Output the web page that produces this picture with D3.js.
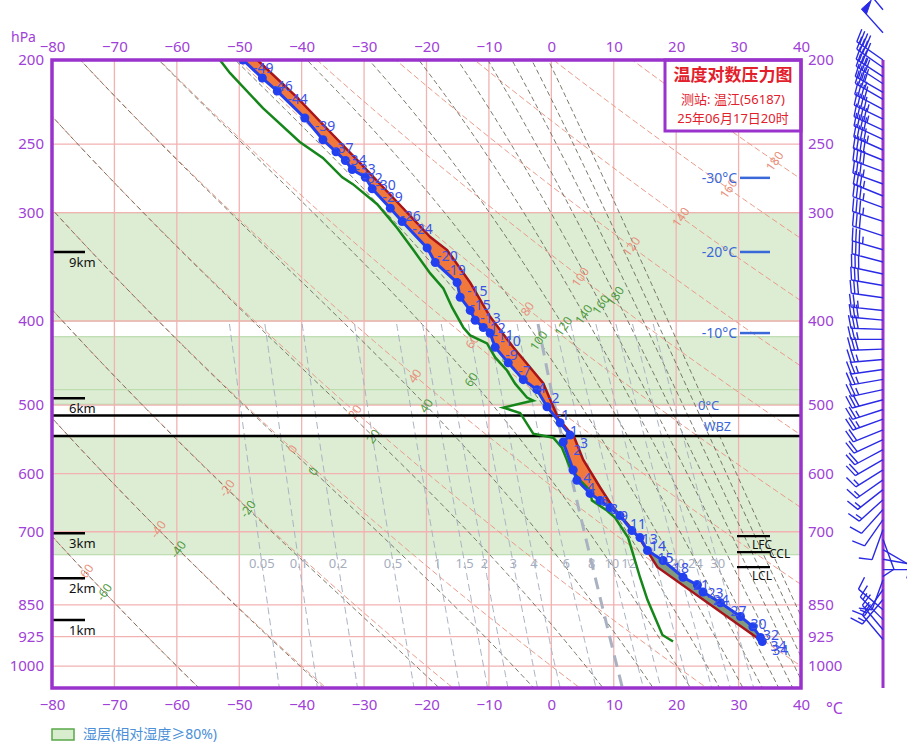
<!DOCTYPE html>
<html>
<head>
<meta charset="utf-8">
<script src="https://cdn.jsdelivr.net/npm/d3@7"></script>
<style>
  body { margin: 0; background: #fff; }
  svg { display: block; }
  text { font-family: "Noto Sans", "Noto Sans CJK SC", sans-serif; }
</style>
</head>
<body>
<svg id="chart" width="907" height="745"></svg>
<script>
"use strict";

// ---- 数据 ----
const tTicks = [-80, -70, -60, -50, -40, -30, -20, -10, 0, 10, 20, 30, 40];
const pTicks = [200, 250, 300, 400, 500, 600, 700, 850, 925, 1000];

// 环境温度 (hPa, °C)
const envP = [200, 209.8, 217.2, 233.3, 247.2, 255.2, 261.2, 267.5, 273.1, 281.6, 296.4, 307.1, 329.4, 342.4, 361.2, 375.5, 388.9, 399.2, 406.9, 413.3, 428.9, 447, 467.4, 480, 502.2, 524.1, 541.5, 551.6, 594.2, 610.6, 632.2, 644.4, 656.5, 670.6, 697.9, 710.9, 735.7, 755.5, 789.9, 806.4, 821.4, 845.4, 876.6, 901, 927, 937];
const envT = [-49.4, -46.3, -43.9, -39.5, -36.6, -34.5, -33.0, -31.9, -29.8, -28.7, -25.8, -23.9, -19.9, -18.6, -15.1, -14.6, -13.0, -12.2, -10.9, -9.8, -9.0, -6.9, -4.5, -2.3, -0.7, 1.4, 3.0, 1.9, 3.5, 4.1, 6.2, 7.8, 9.4, 11.0, 12.9, 14.2, 15.4, 17.9, 21.1, 23.4, 24.3, 27.1, 30.3, 32.3, 33.5, 33.8];

// 状态曲线
const parP = [200, 221, 242.3, 264.9, 291.6, 320, 331.3, 361.2, 395.6, 428.9, 471.9, 518, 545.3, 578, 622, 656.5, 686.7, 714, 737, 769, 937];
const parT = [-47.1, -40.7, -35.4, -30.2, -24.7, -19.4, -16.7, -13.0, -9.8, -6.1, -1.3, 1.1, 3.7, 5.1, 7.8, 9.9, 12.3, 14.2, 15.4, 17.0, 33.8];

// 露点
const dewP = [200, 207, 227.3, 248.6, 259.4, 273.1, 278.1, 293.3, 312.4, 331.3, 352.5, 366.9, 385.8, 406.9, 415.6, 424.5, 440.6, 456.2, 472.4, 490.2, 494.1, 503.5, 510.6, 539.5, 545.3, 560.1, 590.2, 610.6, 627.1, 644.1, 661.6, 674.1, 711, 742.8, 789.9, 838.8, 920.8, 937];
const dewT = [-53.1, -51.5, -46.2, -40.3, -36.6, -33.5, -31.8, -27.9, -24.7, -22.1, -19.4, -17.3, -15.9, -14.1, -13.0, -10.3, -9.0, -7.1, -5.8, -3.9, -2.9, -7.7, -5.0, -2.9, 0.3, 1.7, 3.0, 4.6, 6.2, 6.5, 8.9, 10.2, 12.3, 13.1, 14.2, 15.4, 17.8, 19.5];

// 风 (hPa, 风向°, 风速 m/s)
const windP = [175, 186, 200, 204, 209, 213, 218, 222, 228, 234, 241, 247, 254, 261, 269, 278, 287, 296, 307, 319, 331, 342, 353, 364, 376, 389, 399, 409, 420, 431, 443, 455, 467, 480, 493, 506, 519, 534, 548, 563, 578, 594, 610, 626, 643, 660, 678, 696, 714, 734, 753, 774, 795, 816, 838, 861, 884, 908, 932];
const windDir = [320, 318, 305, 305, 303, 303, 300, 300, 298, 296, 295, 295, 294, 292, 290, 290, 292, 290, 288, 288, 286, 285, 282, 280, 278, 276, 275, 272, 270, 268, 265, 262, 260, 258, 255, 252, 250, 248, 245, 242, 240, 238, 235, 232, 228, 222, 215, 200, 160, 120, 100, 90, 200, 215, 220, 310, 315, 320, 320];
const windSpd = [22, 20, 16, 16, 14, 16, 16, 14, 16, 18, 18, 16, 18, 16, 16, 14, 14, 14, 14, 12, 14, 12, 12, 12, 12, 10, 12, 12, 10, 12, 10, 10, 10, 10, 12, 10, 10, 8, 8, 8, 8, 6, 6, 6, 6, 4, 4, 4, 4, 4, 4, 6, 4, 6, 6, 4, 6, 6, 4];

// 湿层 (相对湿度≥80%)
const humidTop = [300, 417, 480, 544];
const humidBottom = [400, 480, 499, 744];

// 背景线
const dryTheta = [-60, -40, -20, 0, 20, 40, 60, 80, 100, 120, 140, 160, 180];
const moistTheta = [-60, -40, -20, 0, 20, 40, 60, 80, 100, 120, 140, 160, 180, 200, 220, 240];
const mixRatios = [0.05, 0.1, 0.2, 0.5, 1, 1.5, 2, 3, 4, 6, 8, 10, 12, 16, 20, 24, 30];

// 高度、特征层
const heightNames = ["9km", "6km", "3km", "2km", "1km"];
const heightP = [333, 491, 703, 792, 885];
const isoNames = ["-30°C", "-20°C", "-10°C"];
const isoP = [273.5, 333, 413];
const zeroP = 514;
const wbzP = 543;
const levelNames = ["LFC", "CCL", "LCL"];
const levelP = [708, 739, 769];

// ---- 画布 ----
const svg = d3.select("#chart");
const pL = 52, pR = 801, pT = 60, pB = 688;
const purple = "#9933cc";
const purpleText = "#a040d8";

const x = d3.scaleLinear().domain([-80, 40]).range([pL, pR]);
const y = d3.scaleLog().domain([200, 1060]).range([pT, pB]);

svg.append("defs").append("clipPath").attr("id", "plot-clip")
  .append("rect").attr("x", pL).attr("y", pT)
  .attr("width", pR - pL).attr("height", pB - pT);

const plot = svg.append("g").attr("clip-path", "url(#plot-clip)");

// 湿层
plot.selectAll("rect.humid")
  .data(humidTop.map((t, i) => [t, humidBottom[i]]))
  .enter().append("rect")
  .attr("class", "humid")
  .attr("x", pL).attr("width", pR - pL)
  .attr("y", (d) => y(d[0]))
  .attr("height", (d) => y(d[1]) - y(d[0]))
  .attr("fill", "#dcedd3")
  .attr("stroke", "#bcdcaf")
  .attr("stroke-width", 1.2);

// 网格
plot.selectAll("line.vgrid").data(tTicks.slice(1, -1)).enter().append("line")
  .attr("x1", (d) => x(d)).attr("x2", (d) => x(d))
  .attr("y1", pT).attr("y2", pB)
  .attr("stroke", "#f2b2b2").attr("stroke-width", 1.3);
plot.selectAll("line.hgrid").data(pTicks.slice(1)).enter().append("line")
  .attr("x1", pL).attr("x2", pR)
  .attr("y1", (d) => y(d)).attr("y2", (d) => y(d))
  .attr("stroke", "#f2b2b2").attr("stroke-width", 1.3);

// 热力学公式
const K = 273.15;
const es = (t) => 6.112 * Math.exp((17.67 * t) / (t + 243.5));
const ws = (t, p) => {
  const e = Math.min(es(t), p * 0.5);
  return (0.622 * e) / (p - e);
};
const thetaE = (t, p) => {
  const T = t + K;
  return T * Math.pow(1000 / p, 0.2857) * Math.exp((2.5e6 * ws(t, p)) / (1004 * T));
};
const dryT = (th, p) => (th + K) * Math.pow(p / 1000, 0.2857) - K;
const moistT = (th, p) => {
  let lo = -160, hi = 70;
  for (let i = 0; i < 50; i++) {
    const mid = (lo + hi) / 2;
    if (thetaE(mid, p) < th + K) lo = mid; else hi = mid;
  }
  return (lo + hi) / 2;
};
const mixT = (w, p) => {
  const e = (w * p) / (622 + w);
  const a = Math.log(e / 6.112);
  let t = (243.5 * a) / (17.67 - a);
  if (t < 0) t = (272.62 * a) / (22.46 - a);
  return t;
};

const pSample = d3.range(0, 161).map((i) => 170 * Math.pow(1100 / 170, i / 160));
const line = d3.line().x((d) => x(d.t)).y((d) => y(d.p));

// 干绝热线
plot.selectAll("path.dry").data(dryTheta).enter().append("path")
  .attr("d", (th) => line(pSample.map((p) => ({ p, t: dryT(th, p) }))))
  .attr("fill", "none").attr("stroke", "#ec9a88")
  .attr("stroke-width", 1).attr("stroke-dasharray", "6,3");

// 湿绝热线
plot.selectAll("path.moist").data(moistTheta).enter().append("path")
  .attr("d", (th) => line(pSample.map((p) => ({ p, t: moistT(th, p) }))))
  .attr("fill", "none").attr("stroke", "#6a6a5a")
  .attr("stroke-width", 0.9).attr("stroke-dasharray", "5,3");

// 等饱和比湿线
const mixSample = pSample.filter((p) => p >= 400);
plot.selectAll("path.mix").data(mixRatios).enter().append("path")
  .attr("d", (w) => line(mixSample.map((p) => ({ p, t: mixT(w, p) }))))
  .attr("fill", "none").attr("stroke", "#aab2c2")
  .attr("stroke-width", (w) => (w === 8 ? 3 : 1))
  .attr("stroke-dasharray", (w) => (w === 8 ? "12,8" : "7,4"));

plot.selectAll("text.mix").data(mixRatios).enter().append("text")
  .attr("x", (w) => x(mixT(w, 760)))
  .attr("y", y(760) + 5)
  .attr("text-anchor", "middle")
  .attr("font-size", 13)
  .attr("fill", "#a6aebe")
  .text((w) => w);

// 标注位置: 曲线与斜线的交点
function labelAt(fn, x0, y0, slope) {
  const f = (p) => y(p) - (y0 + slope * (x(fn(p)) - x0));
  let prev = null, prevP = null;
  for (const p of pSample) {
    const v = f(p);
    if (prev !== null && Math.sign(v) !== Math.sign(prev)) {
      let lo = prevP, hi = p;
      for (let i = 0; i < 40; i++) {
        const mid = Math.sqrt(lo * hi);
        if (Math.sign(f(mid)) === Math.sign(prev)) lo = mid; else hi = mid;
      }
      return { px: x(fn(lo)), py: y(lo) };
    }
    prev = v; prevP = p;
  }
  return null;
}

const dryLabels = dryTheta.map((th) => ({ th, pos: labelAt((p) => dryT(th, p), 90, 570, -0.597) }))
  .filter((d) => d.pos && d.pos.px > pL && d.pos.px < pR && d.pos.py > pT && d.pos.py < pB);
plot.selectAll("text.dry").data(dryLabels).enter().append("text")
  .attr("transform", (d) => `translate(${d.pos.px},${d.pos.py}) rotate(-55)`)
  .attr("text-anchor", "middle").attr("dy", "0.35em")
  .attr("font-size", 12).attr("fill", "#e8907c")
  .text((d) => d.th);

const moistLabels = moistTheta.map((th) => ({ th, pos: labelAt((p) => moistT(th, p), 108, 590, -0.579) }))
  .filter((d) => d.pos && d.pos.px > pL && d.pos.px < pR && d.pos.py > pT && d.pos.py < pB && d.th <= 180);
plot.selectAll("text.moist").data(moistLabels).enter().append("text")
  .attr("transform", (d) => `translate(${d.pos.px},${d.pos.py}) rotate(-55)`)
  .attr("text-anchor", "middle").attr("dy", "0.35em")
  .attr("font-size", 12).attr("fill", "#4f9a40")
  .text((d) => d.th);

// 0°C 层与湿球零度层
plot.selectAll("line.zero").data([zeroP, wbzP]).enter().append("line")
  .attr("x1", pL).attr("x2", pR)
  .attr("y1", (d) => y(d)).attr("y2", (d) => y(d))
  .attr("stroke", "#000").attr("stroke-width", 2.5);

// 正负面积
function interp(ps, ts, p) {
  for (let i = 0; i < ps.length - 1; i++) {
    if (p >= ps[i] && p <= ps[i + 1]) {
      const f = (Math.log(p) - Math.log(ps[i])) / (Math.log(ps[i + 1]) - Math.log(ps[i]));
      return ts[i] + f * (ts[i + 1] - ts[i]);
    }
  }
  return ts[ts.length - 1];
}
const pMax = Math.min(d3.max(envP), d3.max(parP));
const fillP = Array.from(new Set([...envP, ...parP])).filter((p) => p <= pMax).sort((a, b) => a - b);
const fillData = fillP.map((p) => ({ p, e: interp(envP, envT, p), c: interp(parP, parT, p) }));

plot.append("path").datum(fillData)
  .attr("d", d3.area().y((d) => y(d.p)).x0((d) => x(d.e)).x1((d) => x(Math.max(d.e, d.c))))
  .attr("fill", "#f0783c");
plot.append("path").datum(fillData)
  .attr("d", d3.area().y((d) => y(d.p)).x0((d) => x(Math.min(d.e, d.c))).x1((d) => x(d.e)))
  .attr("fill", "#7f9c80");

// 露点曲线
plot.append("path")
  .datum(dewP.map((p, i) => ({ p, t: dewT[i] })))
  .attr("d", line).attr("fill", "none")
  .attr("stroke", "#15861a").attr("stroke-width", 2.5);

// 状态曲线
plot.append("path")
  .datum(parP.map((p, i) => ({ p, t: parT[i] })))
  .attr("d", line).attr("fill", "none")
  .attr("stroke", "#a8141a").attr("stroke-width", 2.5);

// 温度曲线
const envData = envP.map((p, i) => ({ p, t: envT[i] }));
plot.append("path").datum(envData)
  .attr("d", line).attr("fill", "none")
  .attr("stroke", "#2240f0").attr("stroke-width", 3);
plot.selectAll("circle.env").data(envData).enter().append("circle")
  .attr("cx", (d) => x(d.t)).attr("cy", (d) => y(d.p)).attr("r", 4.5)
  .attr("fill", "#2240f0");
plot.selectAll("text.env").data(envData).enter().append("text")
  .attr("x", (d) => x(d.t) + 10).attr("y", (d) => y(d.p) + 13)
  .attr("font-size", 14).attr("fill", "#3a52e6")
  .text((d) => Math.round(d.t));

// 高度标记
const hk = svg.append("g");
hk.selectAll("line").data(heightP).enter().append("line")
  .attr("x1", pL).attr("x2", 85)
  .attr("y1", (d) => y(d)).attr("y2", (d) => y(d))
  .attr("stroke", "#000").attr("stroke-width", 2.5);
hk.selectAll("text").data(heightP).enter().append("text")
  .attr("x", 69).attr("y", (d) => y(d) + 15)
  .attr("font-size", 13).attr("fill", "#111")
  .text((d, i) => heightNames[i]);

// 特征层 LFC / CCL / LCL
const lv = svg.append("g");
lv.selectAll("line").data(levelP).enter().append("line")
  .attr("x1", 737).attr("x2", 770)
  .attr("y1", (d) => y(d)).attr("y2", (d) => y(d))
  .attr("stroke", "#000").attr("stroke-width", 2.2);
lv.selectAll("text").data(levelP).enter().append("text")
  .attr("x", (d, i) => (i === 1 ? 769 : 752))
  .attr("y", (d, i) => y(d) + (i === 1 ? 6 : 13))
  .attr("font-size", 12).attr("fill", "#111")
  .text((d, i) => levelNames[i]);

// 等温层标记
const iso = svg.append("g");
iso.selectAll("line").data(isoP).enter().append("line")
  .attr("x1", 740).attr("x2", 770)
  .attr("y1", (d) => y(d)).attr("y2", (d) => y(d))
  .attr("stroke", "#3a68d8").attr("stroke-width", 2.5);
iso.selectAll("text").data(isoP).enter().append("text")
  .attr("x", 737).attr("y", (d) => y(d) + 5)
  .attr("text-anchor", "end")
  .attr("font-size", 14).attr("fill", "#3a68d8")
  .text((d, i) => isoNames[i]);
svg.append("text").attr("x", 698).attr("y", y(zeroP) - 5)
  .attr("font-size", 13).attr("fill", "#3a68d8").text("0°C");
svg.append("text").attr("x", 704).attr("y", y(zeroP) + 16)
  .attr("font-size", 12.5).attr("fill", "#3a68d8").text("WBZ");

// 标题框
svg.append("rect").attr("x", 665).attr("y", pT).attr("width", pR - 665).attr("height", 71)
  .attr("fill", "#fff").attr("stroke", purple).attr("stroke-width", 3);
svg.append("text").attr("x", 733).attr("y", 81).attr("text-anchor", "middle")
  .attr("font-size", 17).attr("font-weight", "bold").attr("fill", "#e2202c")
  .attr("font-family", "Noto Sans CJK SC").text("温度对数压力图");
svg.append("text").attr("x", 733).attr("y", 104).attr("text-anchor", "middle")
  .attr("font-size", 13).attr("fill", "#e2202c")
  .attr("font-family", "Noto Sans CJK SC").text("测站: 温江(56187)");
svg.append("text").attr("x", 733).attr("y", 123).attr("text-anchor", "middle")
  .attr("font-size", 13).attr("fill", "#e2202c")
  .attr("font-family", "Noto Sans CJK SC").text("25年06月17日20时");

// 边框
svg.append("rect").attr("x", pL).attr("y", pT)
  .attr("width", pR - pL).attr("height", pB - pT)
  .attr("fill", "none").attr("stroke", purple).attr("stroke-width", 3.5);

// 坐标轴
function styleAxis(g) {
  g.select(".domain").remove();
  g.selectAll("text").attr("fill", purpleText).attr("font-size", 15)
    .attr("font-family", "Noto Sans, sans-serif");
}
svg.append("g").attr("transform", `translate(0,${pT})`)
  .call(d3.axisTop(x).tickValues(tTicks).tickSize(0).tickPadding(8)).call(styleAxis);
svg.append("g").attr("transform", `translate(0,${pB})`)
  .call(d3.axisBottom(x).tickValues(tTicks).tickSize(0).tickPadding(11)).call(styleAxis);
svg.append("g").attr("transform", `translate(${pL},0)`)
  .call(d3.axisLeft(y).tickValues(pTicks).tickFormat(d3.format("d")).tickSize(0).tickPadding(8)).call(styleAxis);
svg.append("g").attr("transform", `translate(${pR},0)`)
  .call(d3.axisRight(y).tickValues(pTicks).tickFormat(d3.format("d")).tickSize(0).tickPadding(7)).call(styleAxis);

svg.append("text").attr("x", 11).attr("y", 42).attr("font-size", 14).attr("fill", purpleText).text("hPa");
svg.append("text").attr("x", 826).attr("y", 714).attr("font-size", 16).attr("fill", purpleText).text("°C");

// 图例
svg.append("rect").attr("x", 52).attr("y", 729).attr("width", 22).attr("height", 11)
  .attr("fill", "#d8ecce").attr("stroke", "#5aa84a").attr("stroke-width", 1.5);
svg.append("text").attr("x", 83).attr("y", 739).attr("font-size", 14).attr("fill", "#4a8fd8")
  .attr("font-family", "Noto Sans CJK SC").text("湿层(相对湿度≥80%)");

// 风廓线
const windX = 883;
svg.append("line").attr("x1", windX).attr("x2", windX).attr("y1", pT).attr("y2", pB)
  .attr("stroke", purple).attr("stroke-width", 3);

const barbColor = "#2a2ae6";
const staffLen = 32, featherLen = 13, gap = 3.6;
const wind = svg.append("g").attr("stroke", barbColor).attr("fill", barbColor).attr("stroke-width", 1.4);
windP.forEach((p, i) => {
  const a = (windDir[i] * Math.PI) / 180;
  const ux = Math.sin(a), uy = -Math.cos(a);
  const nx = -uy, ny = ux;
  const bx = windX, by = y(p);
  const tx = bx + staffLen * ux, ty = by + staffLen * uy;
  const path = d3.path();
  path.moveTo(bx, by); path.lineTo(tx, ty);
  let s = Math.round(windSpd[i] / 2) * 2;
  let d = 0;
  const flags = [];
  while (s >= 20) {
    flags.push(d);
    d += gap * 2.2;
    s -= 20;
  }
  while (s >= 4) {
    const px = tx - d * ux, py = ty - d * uy;
    path.moveTo(px, py);
    path.lineTo(px + featherLen * nx + 3 * ux, py + featherLen * ny + 3 * uy);
    d += gap; s -= 4;
  }
  if (s >= 2) {
    if (d === 0) d = gap;
    const px = tx - d * ux, py = ty - d * uy;
    path.moveTo(px, py);
    path.lineTo(px + 0.55 * featherLen * nx + 1.5 * ux, py + 0.55 * featherLen * ny + 1.5 * uy);
  }
  wind.append("path").attr("d", path.toString()).attr("fill", "none");
  flags.forEach((fd) => {
    const px = tx - fd * ux, py = ty - fd * uy;
    const w = gap * 2;
    wind.append("path")
      .attr("d", `M${px},${py}L${px + featherLen * nx},${py + featherLen * ny}L${px - w * ux},${py - w * uy}Z`)
      .attr("stroke-width", 1);
  });
});
</script>
</body>
</html>
